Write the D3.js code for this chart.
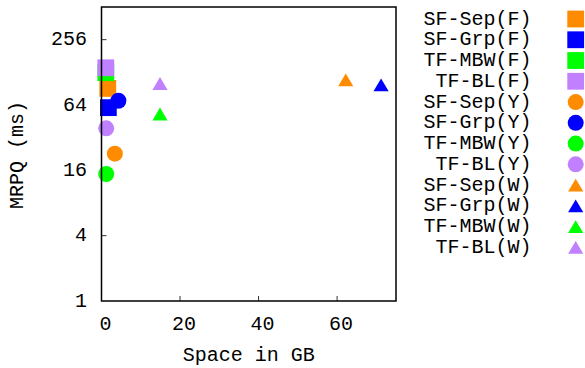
<!DOCTYPE html>
<html>
<head>
<meta charset="utf-8">
<script src="https://cdn.jsdelivr.net/npm/d3@7"></script>
<style>
  html, body { margin: 0; padding: 0; background: #fff; }
  svg { display: block; }
  text { font-family: "Liberation Mono", "DejaVu Sans Mono", monospace; font-size: 20px; fill: #000; }
</style>
</head>
<body>
<svg id="chart" width="585" height="368"></svg>
<script>
// Series names, in drawing order
const seriesNames = [
  "SF-Sep(F)", "SF-Grp(F)", "TF-MBW(F)", "TF-BL(F)",
  "SF-Sep(Y)", "SF-Grp(Y)", "TF-MBW(Y)", "TF-BL(Y)",
  "SF-Sep(W)", "SF-Grp(W)", "TF-MBW(W)", "TF-BL(W)"
];
// Space in GB for each series
const spaceGB = [1.6, 1.75, 1.1, 1.1, 3.4, 4.3, 1.2, 1.2, 62.2, 71.2, 14.9, 14.9];
// MRPQ in ms for each series
const mrpqMs = [91, 60.5, 127, 141, 22.8, 70, 14.8, 39, 109, 98, 52.9, 101];
const shapes = ["square", "square", "square", "square",
                "circle", "circle", "circle", "circle",
                "triangle", "triangle", "triangle", "triangle"];
const colors = ["#ff8c00", "#0000ff", "#00ff00", "#c080ff",
                "#ff8c00", "#0000ff", "#00ff00", "#c080ff",
                "#ff8c00", "#0000ff", "#00ff00", "#c080ff"];

const xTicks = [0, 20, 40, 60];
const yTicks = [1, 4, 16, 64, 256];

const svg = d3.select("#chart");
const plotL = 101.5, plotR = 396, plotT = 7, plotB = 301;

const x = d3.scaleLinear().domain([0, 75]).range([plotL, plotR]);
const y = d3.scaleLog().base(2).domain([1, 512]).range([plotB, plotT]);

// marker path centred on (0,0)
function markerPath(shape) {
  if (shape === "square") {
    const s = 8.4;
    return `M${-s},${-s}H${s}V${s}H${-s}Z`;
  }
  if (shape === "circle") {
    const r = 8;
    return `M${r},0A${r},${r} 0 1,1 ${-r},0A${r},${r} 0 1,1 ${r},0Z`;
  }
  const w = 7.6, h = 6.4;
  return `M0,${-h}L${w},${h}L${-w},${h}Z`;
}

// axis ticks (inward)
const gAxes = svg.append("g");
yTicks.forEach(t => {
  if (t > 1) {
    gAxes.append("line")
      .attr("x1", plotL).attr("x2", plotL + 5)
      .attr("y1", y(t)).attr("y2", y(t))
      .attr("stroke", "#333").attr("stroke-width", 1);
  }
  gAxes.append("text")
    .attr("x", 87).attr("y", y(t))
    .attr("text-anchor", "end")
    .attr("dominant-baseline", "central")
    .text(t);
});
xTicks.forEach(t => {
  if (t > 0) {
    gAxes.append("line")
      .attr("x1", x(t)).attr("x2", x(t))
      .attr("y1", plotB).attr("y2", plotB - 5)
      .attr("stroke", "#333").attr("stroke-width", 1);
  }
  gAxes.append("text")
    .attr("x", x(t) + 4).attr("y", 324)
    .attr("text-anchor", "middle")
    .attr("dominant-baseline", "central")
    .text(t);
});

// data points
const gPts = svg.append("g");
seriesNames.forEach((name, i) => {
  gPts.append("path")
    .attr("d", markerPath(shapes[i]))
    .attr("transform", `translate(${x(spaceGB[i])},${y(mrpqMs[i])})`)
    .attr("fill", colors[i]);
});

// frame
svg.append("rect")
  .attr("x", plotL).attr("y", plotT)
  .attr("width", plotR - plotL).attr("height", plotB - plotT)
  .attr("fill", "none").attr("stroke", "#000").attr("stroke-width", 1.5);

// axis titles
svg.append("text")
  .attr("x", (plotL + plotR) / 2).attr("y", 355)
  .attr("text-anchor", "middle").attr("dominant-baseline", "central")
  .text("Space in GB");
svg.append("text")
  .attr("transform", "translate(17.5,155) rotate(-90)")
  .attr("text-anchor", "middle").attr("dominant-baseline", "central")
  .text("MRPQ (ms)");

// legend
const gLeg = svg.append("g");
seriesNames.forEach((name, i) => {
  const cy = 19 + i * 20.76;
  gLeg.append("text")
    .attr("x", 531.5).attr("y", cy)
    .attr("text-anchor", "end").attr("dominant-baseline", "central")
    .text(name);
  gLeg.append("path")
    .attr("d", markerPath(shapes[i]))
    .attr("transform", `translate(575.7,${cy})`)
    .attr("fill", colors[i]);
});
</script>
</body>
</html>
